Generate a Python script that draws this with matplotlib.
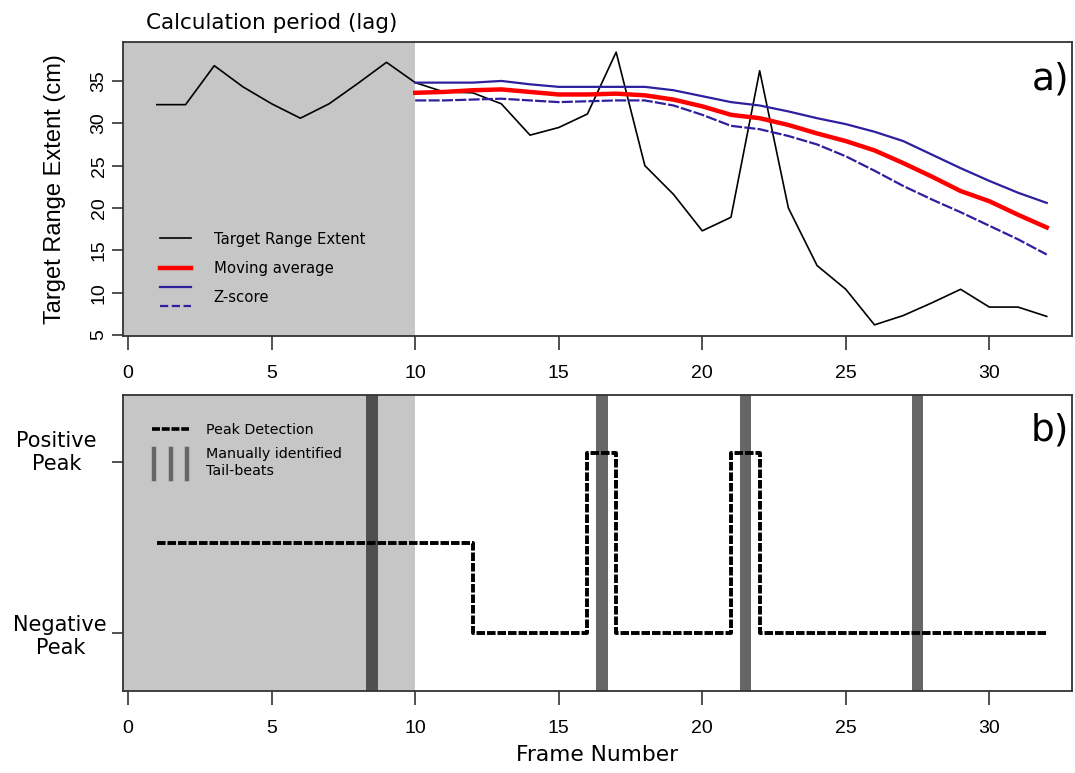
import matplotlib
matplotlib.use("Agg")
import matplotlib.pyplot as plt
from matplotlib.lines import Line2D
from matplotlib.legend_handler import HandlerBase
from matplotlib.transforms import blended_transform_factory

# Frame-by-frame data
frames = list(range(1, 33))
target_range = [32.2, 32.2, 36.8, 34.3, 32.3, 30.6, 32.3, 34.7, 37.2, 34.8,
                33.7, 33.6, 32.3, 28.6, 29.5, 31.1, 38.4, 25.0, 21.6, 17.3,
                18.9, 36.2, 20.0, 13.2, 10.4, 6.2, 7.3, 8.8, 10.4, 8.3,
                8.3, 7.2]

# Moving average and z-score bands start once the lag window is full
stat_frames = list(range(10, 33))
moving_avg = [33.6, 33.7, 33.9, 34.0, 33.7, 33.4, 33.4, 33.5, 33.3, 32.8,
              32.0, 31.0, 30.6, 29.8, 28.8, 27.9, 26.8, 25.3, 23.7, 22.0,
              20.8, 19.2, 17.7]
zscore_upper = [34.8, 34.8, 34.8, 35.0, 34.6, 34.3, 34.3, 34.3, 34.3, 33.9,
                33.2, 32.5, 32.1, 31.4, 30.6, 29.9, 29.0, 27.9, 26.3, 24.7,
                23.2, 21.8, 20.6]
zscore_lower = [32.7, 32.7, 32.8, 32.9, 32.7, 32.5, 32.6, 32.7, 32.7, 32.1,
                31.0, 29.7, 29.3, 28.5, 27.5, 26.1, 24.4, 22.6, 21.0, 19.5,
                17.9, 16.3, 14.5]

# Peak detection signal: 0 = none, 1 = positive, -1 = negative
peak_signal = [0, 0, 0, 0, 0, 0, 0, 0, 0, 0, 0,
               -1, -1, -1, -1, 1, -1, -1, -1, -1, 1,
               -1, -1, -1, -1, -1, -1, -1, -1, -1, -1, -1]
tail_beats = [8.5, 16.5, 21.5, 27.5]
lag_end = 10

XLIM = (-0.18, 32.88)
SHADE = "#c6c6c6"
BLUE = "#2d1f9e"
SPINE = "#333333"
PEAK_LS = (0, (2.2, 0.5))


class StackedLines(HandlerBase):
    """Draw a tuple of lines one above the other in a legend slot."""

    def create_artists(self, legend, orig_handle, xdescent, ydescent,
                       width, height, fontsize, trans):
        arts = []
        gap = height * 1.85
        n = len(orig_handle)
        for i, h in enumerate(orig_handle):
            y = height / 2 - ydescent + ((n - 1) / 2 - i) * gap
            arts.append(Line2D([-xdescent, width - xdescent], [y, y],
                               color=h.get_color(), lw=h.get_linewidth(),
                               ls=h.get_linestyle(), transform=trans))
        return arts


class BarsHandler(HandlerBase):
    """Three short vertical bars for the tail-beat entry."""

    def create_artists(self, legend, orig_handle, xdescent, ydescent,
                       width, height, fontsize, trans):
        arts = []
        for f in (0.05, 0.5, 0.95):
            x = -xdescent + f * width
            arts.append(Line2D([x, x],
                               [-ydescent - height * 1.1, height * 1.9 - ydescent],
                               color="#666666", lw=3.2, transform=trans))
        return arts


fig = plt.figure(figsize=(10.75, 7.73), dpi=100)
ax1 = fig.add_axes([0.1144, 0.5655, 0.8828, 0.3802])
ax2 = fig.add_axes([0.1144, 0.1061, 0.8828, 0.3829])

for ax in (ax1, ax2):
    ax.set_xlim(*XLIM)
    ax.axvspan(XLIM[0], lag_end, color=SHADE, lw=0, zorder=0)
    ax.set_xticks([0, 5, 10, 15, 20, 25, 30])
    for s in ax.spines.values():
        s.set_color(SPINE)
        s.set_linewidth(1.3)
    ax.tick_params(axis="x", length=10, width=1.2, color=SPINE, pad=11,
                   labelsize=14)
    ax.tick_params(axis="y", length=8, width=1.2, color=SPINE)
    for lab in ax.get_xticklabels():
        lab.set_family("Liberation Sans")

# a) range extent with moving average and z-score bands
ax1.plot(frames, target_range, color="black", lw=1.2, zorder=3)
ax1.plot(stat_frames, zscore_upper, color=BLUE, lw=1.6, zorder=3)
ax1.plot(stat_frames, zscore_lower, color=BLUE, lw=1.6,
         ls=(0, (5, 1)), zorder=3)
ax1.plot(stat_frames, moving_avg, color="red", lw=3.2, zorder=4)
ax1.set_ylim(4.9, 39.6)
ax1.set_yticks([5, 10, 15, 20, 25, 30, 35])
ax1.tick_params(axis="y", labelsize=14, pad=3)
for lab in ax1.get_yticklabels():
    lab.set_family("Liberation Sans")
    lab.set_rotation(90)
    lab.set_va("center")
ax1.set_ylabel("Target Range Extent (cm)", fontsize=17,
               family="Liberation Sans", labelpad=18)
ax1.text(0.997, 0.872, "a)", transform=ax1.transAxes, ha="right",
         va="center", fontsize=27)
ax1.text(lag_end / 2, 40.7, "Calculation period (lag)", ha="center",
         va="bottom", fontsize=15.5, clip_on=False)

leg_a = [Line2D([], [], color="black", lw=1.2),
         Line2D([], [], color="red", lw=3.2),
         (Line2D([], [], color=BLUE, lw=1.6),
          Line2D([], [], color=BLUE, lw=1.6, ls=(0, (2.5, 0.8))))]
ax1.legend(leg_a, ["Target Range Extent", "Moving average", "Z-score"],
           handler_map={tuple: StackedLines()}, loc="lower left",
           bbox_to_anchor=(0.025, 0.06), frameon=False, fontsize=10.7,
           handlelength=2.1, handletextpad=1.5, labelspacing=0.95)

# b) peak detection against manually identified tail-beats
for tb in tail_beats:
    ax2.axvspan(tb - 0.2, tb + 0.2, color="black", alpha=0.6, lw=0, zorder=1)
ax2.plot(frames, peak_signal, color="black", lw=2.8, ls=PEAK_LS,
         drawstyle="steps-post", zorder=3)
ax2.set_ylim(-1.64, 1.64)
ax2.set_yticks([-1, 0.9])
ax2.set_yticklabels(["Negative\nPeak", ""], fontsize=15,
                    multialignment="center")
lab_tr = blended_transform_factory(ax2.transAxes, ax2.transData)
ax2.text(-0.07, 1.0, "Positive\nPeak", transform=lab_tr, ha="center",
         va="center", fontsize=15, multialignment="center")
ax2.set_xlabel("Frame Number", fontsize=15.7, labelpad=6)
ax2.text(0.997, 0.88, "b)", transform=ax2.transAxes, ha="right",
         va="center", fontsize=27)

peak_handle = Line2D([], [], color="black", lw=2.6, ls=PEAK_LS)
bar_handle = Line2D([], [], color="#666666")
ax2.legend([peak_handle, bar_handle],
           ["Peak Detection", "Manually identified\nTail-beats"],
           handler_map={bar_handle: BarsHandler()},
           loc="upper left", bbox_to_anchor=(0.017, 0.95), frameon=False,
           fontsize=10.3, handlelength=2.6, handletextpad=1.2,
           labelspacing=0.75)

fig.savefig("out.png", dpi=100)
